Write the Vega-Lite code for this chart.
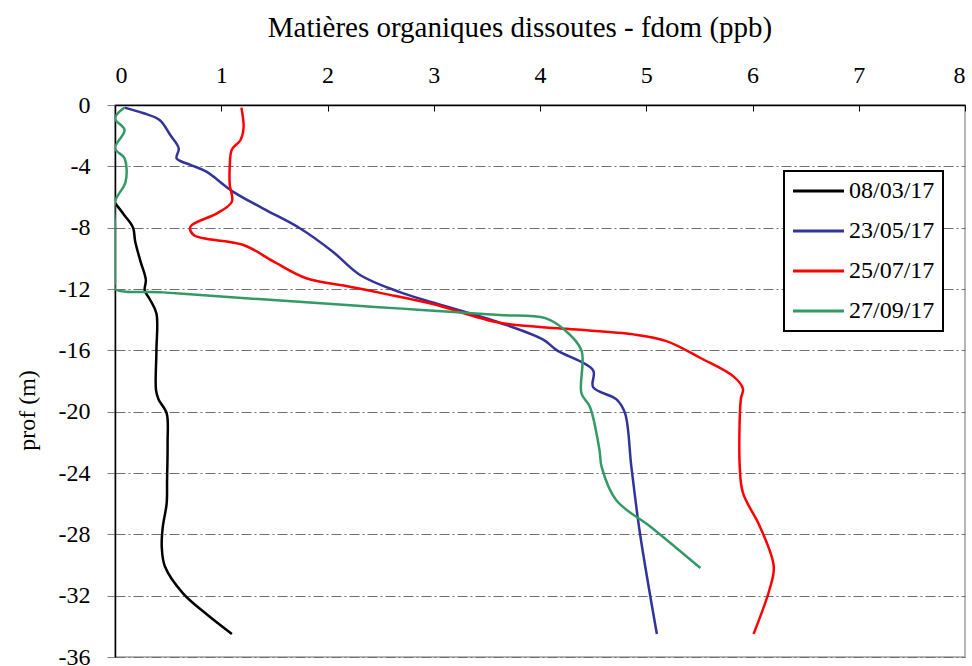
{
  "$schema": "https://vega.github.io/schema/vega-lite/v6.json",
  "autosize": {"type": "none"},
  "width": 850,
  "height": 552,
  "padding": {"left": 115, "top": 105, "right": 7, "bottom": 9},
  "background": "white",
  "title": {
    "text": "Matières organiques dissoutes - fdom (ppb)",
    "font": "Liberation Serif",
    "fontSize": 29,
    "fontWeight": "normal",
    "color": "black",
    "anchor": "middle",
    "frame": "group",
    "dx": -20,
    "offset": 20
  },
  "config": {
    "view": {"stroke": "#a0a0a0", "strokeWidth": 1.5},
    "axis": {"labelFont": "Liberation Serif", "titleFont": "Liberation Serif", "labelColor": "black", "titleColor": "black"},
    "legend": {"strokeWidth": 2}
  },
  "data": {
    "values": [
      {"date": "08/03/17", "fdom": 0.0, "prof": -6.4},
      {"date": "08/03/17", "fdom": 0.09, "prof": -7.2},
      {"date": "08/03/17", "fdom": 0.17, "prof": -8.0},
      {"date": "08/03/17", "fdom": 0.19, "prof": -8.9},
      {"date": "08/03/17", "fdom": 0.24, "prof": -10.2},
      {"date": "08/03/17", "fdom": 0.29, "prof": -11.4},
      {"date": "08/03/17", "fdom": 0.28, "prof": -12.1},
      {"date": "08/03/17", "fdom": 0.33, "prof": -12.7},
      {"date": "08/03/17", "fdom": 0.39, "prof": -13.6},
      {"date": "08/03/17", "fdom": 0.39, "prof": -16.0},
      {"date": "08/03/17", "fdom": 0.386, "prof": -18.6},
      {"date": "08/03/17", "fdom": 0.41, "prof": -19.2},
      {"date": "08/03/17", "fdom": 0.486, "prof": -20.1},
      {"date": "08/03/17", "fdom": 0.495, "prof": -22.0},
      {"date": "08/03/17", "fdom": 0.49, "prof": -24.5},
      {"date": "08/03/17", "fdom": 0.486, "prof": -26.0},
      {"date": "08/03/17", "fdom": 0.45, "prof": -27.5},
      {"date": "08/03/17", "fdom": 0.44, "prof": -28.8},
      {"date": "08/03/17", "fdom": 0.47, "prof": -30.1},
      {"date": "08/03/17", "fdom": 0.64, "prof": -31.85},
      {"date": "08/03/17", "fdom": 0.86, "prof": -33.2},
      {"date": "08/03/17", "fdom": 1.1, "prof": -34.5},
      {"date": "23/05/17", "fdom": 0.09, "prof": -0.17},
      {"date": "23/05/17", "fdom": 0.27, "prof": -0.54},
      {"date": "23/05/17", "fdom": 0.42, "prof": -0.98},
      {"date": "23/05/17", "fdom": 0.52, "prof": -1.96},
      {"date": "23/05/17", "fdom": 0.6, "prof": -2.83},
      {"date": "23/05/17", "fdom": 0.58, "prof": -3.48},
      {"date": "23/05/17", "fdom": 0.71, "prof": -3.9},
      {"date": "23/05/17", "fdom": 0.86, "prof": -4.35},
      {"date": "23/05/17", "fdom": 1.11, "prof": -5.65},
      {"date": "23/05/17", "fdom": 1.39, "prof": -6.74},
      {"date": "23/05/17", "fdom": 1.74, "prof": -8.04},
      {"date": "23/05/17", "fdom": 2.05, "prof": -9.57},
      {"date": "23/05/17", "fdom": 2.31, "prof": -11.1},
      {"date": "23/05/17", "fdom": 2.68, "prof": -12.2},
      {"date": "23/05/17", "fdom": 3.0, "prof": -12.9},
      {"date": "23/05/17", "fdom": 3.62, "prof": -14.2},
      {"date": "23/05/17", "fdom": 4.03, "prof": -15.3},
      {"date": "23/05/17", "fdom": 4.16, "prof": -16.0},
      {"date": "23/05/17", "fdom": 4.5, "prof": -17.3},
      {"date": "23/05/17", "fdom": 4.5, "prof": -18.4},
      {"date": "23/05/17", "fdom": 4.72, "prof": -19.2},
      {"date": "23/05/17", "fdom": 4.8, "prof": -20.1},
      {"date": "23/05/17", "fdom": 4.86, "prof": -23.6},
      {"date": "23/05/17", "fdom": 4.94, "prof": -27.9},
      {"date": "23/05/17", "fdom": 5.1, "prof": -34.5},
      {"date": "25/07/17", "fdom": 1.19, "prof": -0.17},
      {"date": "25/07/17", "fdom": 1.21, "prof": -1.5},
      {"date": "25/07/17", "fdom": 1.18, "prof": -2.3},
      {"date": "25/07/17", "fdom": 1.1, "prof": -2.9},
      {"date": "25/07/17", "fdom": 1.08, "prof": -4.0},
      {"date": "25/07/17", "fdom": 1.08, "prof": -5.2},
      {"date": "25/07/17", "fdom": 1.1, "prof": -6.3},
      {"date": "25/07/17", "fdom": 0.96, "prof": -7.07},
      {"date": "25/07/17", "fdom": 0.71, "prof": -7.93},
      {"date": "25/07/17", "fdom": 0.74, "prof": -8.48},
      {"date": "25/07/17", "fdom": 1.21, "prof": -9.13},
      {"date": "25/07/17", "fdom": 1.49, "prof": -10.2},
      {"date": "25/07/17", "fdom": 1.8, "prof": -11.3},
      {"date": "25/07/17", "fdom": 2.21, "prof": -11.85},
      {"date": "25/07/17", "fdom": 2.53, "prof": -12.3},
      {"date": "25/07/17", "fdom": 3.0, "prof": -13.0},
      {"date": "25/07/17", "fdom": 3.62, "prof": -14.2},
      {"date": "25/07/17", "fdom": 4.25, "prof": -14.6},
      {"date": "25/07/17", "fdom": 4.88, "prof": -14.96},
      {"date": "25/07/17", "fdom": 5.19, "prof": -15.4},
      {"date": "25/07/17", "fdom": 5.51, "prof": -16.5},
      {"date": "25/07/17", "fdom": 5.82, "prof": -17.7},
      {"date": "25/07/17", "fdom": 5.91, "prof": -18.5},
      {"date": "25/07/17", "fdom": 5.89, "prof": -19.2},
      {"date": "25/07/17", "fdom": 5.88, "prof": -23.6},
      {"date": "25/07/17", "fdom": 5.91, "prof": -25.3},
      {"date": "25/07/17", "fdom": 6.07, "prof": -27.5},
      {"date": "25/07/17", "fdom": 6.2, "prof": -30.1},
      {"date": "25/07/17", "fdom": 6.16, "prof": -31.6},
      {"date": "25/07/17", "fdom": 6.01, "prof": -34.5},
      {"date": "27/09/17", "fdom": 0.09, "prof": -0.17},
      {"date": "27/09/17", "fdom": 0.0, "prof": -0.87},
      {"date": "27/09/17", "fdom": 0.09, "prof": -1.63},
      {"date": "27/09/17", "fdom": 0.0, "prof": -2.83},
      {"date": "27/09/17", "fdom": 0.09, "prof": -3.48},
      {"date": "27/09/17", "fdom": 0.1, "prof": -5.0},
      {"date": "27/09/17", "fdom": 0.0, "prof": -6.3},
      {"date": "27/09/17", "fdom": 0.0, "prof": -8.0},
      {"date": "27/09/17", "fdom": 0.0, "prof": -10.0},
      {"date": "27/09/17", "fdom": 0.0, "prof": -11.5},
      {"date": "27/09/17", "fdom": 0.0, "prof": -12.0},
      {"date": "27/09/17", "fdom": 0.45, "prof": -12.22},
      {"date": "27/09/17", "fdom": 0.9, "prof": -12.44},
      {"date": "27/09/17", "fdom": 1.35, "prof": -12.66},
      {"date": "27/09/17", "fdom": 1.8, "prof": -12.87},
      {"date": "27/09/17", "fdom": 2.25, "prof": -13.08},
      {"date": "27/09/17", "fdom": 2.7, "prof": -13.28},
      {"date": "27/09/17", "fdom": 3.15, "prof": -13.48},
      {"date": "27/09/17", "fdom": 3.62, "prof": -13.7},
      {"date": "27/09/17", "fdom": 4.05, "prof": -13.9},
      {"date": "27/09/17", "fdom": 4.22, "prof": -14.6},
      {"date": "27/09/17", "fdom": 4.39, "prof": -16.0},
      {"date": "27/09/17", "fdom": 4.39, "prof": -18.8},
      {"date": "27/09/17", "fdom": 4.47, "prof": -19.7},
      {"date": "27/09/17", "fdom": 4.56, "prof": -22.5},
      {"date": "27/09/17", "fdom": 4.58, "prof": -23.6},
      {"date": "27/09/17", "fdom": 4.72, "prof": -25.8},
      {"date": "27/09/17", "fdom": 5.04, "prof": -27.5},
      {"date": "27/09/17", "fdom": 5.51, "prof": -30.2}
    ]
  },
  "mark": {"type": "line", "strokeWidth": 2.5, "interpolate": "catmull-rom", "clip": true},
  "encoding": {
    "x": {
      "field": "fdom",
      "type": "quantitative",
      "scale": {"domain": [0, 8], "nice": false},
      "axis": {
        "orient": "top",
        "title": null,
        "values": [0, 1, 2, 3, 4, 5, 6, 7, 8],
        "grid": false,
        "domainColor": "black",
        "domainWidth": 1.5,
        "tickColor": "black",
        "tickSize": -6,
        "labelPadding": 24,
        "labelFontSize": 24
      }
    },
    "y": {
      "field": "prof",
      "type": "quantitative",
      "scale": {"domain": [-36, 0], "nice": false},
      "axis": {
        "title": "prof (m)",
        "titleFontSize": 24,
        "titleFontWeight": "normal",
        "titleX": -88,
        "titleY": 305,
        "titleAngle": 270,
        "titleAlign": "center",
        "titleBaseline": "middle",
        "values": [-36, -32, -28, -24, -20, -16, -12, -8, -4, 0],
        "labelExpr": "'' + datum.value",
        "grid": true,
        "gridColor": "#707070",
        "gridDash": [10, 3, 2, 3],
        "gridWidth": 1,
        "domainColor": "black",
        "domainWidth": 1.5,
        "tickColor": "#808080",
        "tickSize": 8,
        "labelPadding": 17,
        "labelFontSize": 24
      }
    },
    "color": {
      "field": "date",
      "type": "nominal",
      "scale": {
        "domain": ["08/03/17", "23/05/17", "25/07/17", "27/09/17"],
        "range": ["#000000", "#333399", "#ff0000", "#339966"]
      },
      "legend": {
        "title": null,
        "orient": "none",
        "legendX": 669,
        "legendY": 66,
        "strokeColor": "black",
        "fillColor": "white",
        "padding": 8,
        "symbolType": "M-1.1,0H4.0",
        "symbolSize": 400,
        "symbolStrokeWidth": 3,
        "labelFont": "Liberation Serif",
        "labelFontSize": 24,
        "labelColor": "black",
        "labelOffset": 33,
        "rowPadding": 16
      }
    },
    "order": {"field": "prof", "sort": "descending"}
  }
}
